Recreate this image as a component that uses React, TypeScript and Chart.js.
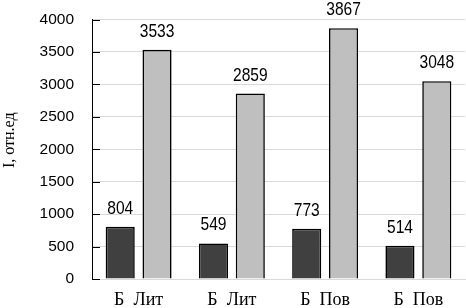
import { useEffect, useRef } from 'react';
import { Chart, registerables } from 'chart.js';

Chart.register(...registerables);

const categories = ['Б  Лит', 'Б  Лит', 'Б  Пов', 'Б  Пов'];
const darkValues = [804, 549, 773, 514];
const lightValues = [3533, 2859, 3867, 3048];
const yMin = 0;
const yMax = 4000;
const yStep = 500;
const yTitle = 'I, отн.ед';

const valueLabels = {
  id: 'valueLabels',
  afterDatasetsDraw(chart: any) {
    const ctx = chart.ctx;
    const sx = 0.82;
    chart.data.datasets.forEach((ds: any, i: number) => {
      chart.getDatasetMeta(i).data.forEach((el: any, j: number) => {
        ctx.save();
        ctx.font = '19px "Liberation Sans", sans-serif';
        ctx.fillStyle = '#000';
        ctx.textAlign = 'center';
        ctx.textBaseline = 'alphabetic';
        ctx.translate(el.x, el.y - 13);
        ctx.scale(sx, 1);
        ctx.fillText(String(ds.data[j]), 0, 0);
        ctx.restore();
      });
    });
  },
};

const innerTicks = {
  id: 'innerTicks',
  afterDraw(chart: any) {
    const ctx = chart.ctx;
    const y = chart.scales.y;
    const left = chart.chartArea.left;
    ctx.save();
    ctx.strokeStyle = '#000';
    ctx.lineWidth = 1;
    y.ticks.forEach((t: any) => {
      const py = Math.round(y.getPixelForValue(t.value)) + 0.5;
      ctx.beginPath();
      ctx.moveTo(left, py);
      ctx.lineTo(left + 8, py);
      ctx.stroke();
    });
    ctx.restore();
    const ca = chart.chartArea;
    ctx.save();
    ctx.font = '16px "Liberation Serif", serif';
    ctx.fillStyle = '#000';
    ctx.textAlign = 'center';
    ctx.textBaseline = 'middle';
    ctx.translate(10, (ca.top + ca.bottom) / 2 - 9);
    ctx.rotate(-Math.PI / 2);
    ctx.fillText(yTitle, 0, 0);
    ctx.restore();
  },
};

export default function App() {
  const ref = useRef<HTMLCanvasElement>(null);
  useEffect(() => {
    const chart = new Chart(ref.current as HTMLCanvasElement, {
      type: 'bar',
      data: {
        labels: categories,
        datasets: [
          {
            data: darkValues,
            backgroundColor: '#404040',
            borderColor: '#000',
            borderWidth: 1.6,
            categoryPercentage: 0.79,
            barPercentage: 0.79,
          },
          {
            data: lightValues,
            backgroundColor: '#bfbfbf',
            borderColor: '#000',
            borderWidth: 1.6,
            categoryPercentage: 0.79,
            barPercentage: 0.79,
          },
        ],
      },
      options: {
        animation: false,
        responsive: false,
        devicePixelRatio: 1,
        layout: { padding: { top: 19.5, right: 1, left: 0, bottom: 0 } },
        plugins: {
          legend: { display: false },
          tooltip: { enabled: false },
        },
        scales: {
          x: {
            grid: { display: false, drawTicks: false },
            border: { display: true, color: '#d9d9d9' },
            ticks: {
              color: '#000',
              font: { family: '"Liberation Serif", serif', size: 18 },
              padding: 10,
              maxRotation: 0,
              autoSkip: false,
            },
            afterFit(scale: any) {
              scale.height = 29;
              scale.paddingLeft = 0;
              scale.paddingRight = 0;
            },
          },
          y: {
            min: yMin,
            max: yMax,
            grid: { color: '#d9d9d9', drawTicks: false, lineWidth: 1 },
            border: { display: true, color: '#000', width: 1 },
            ticks: {
              stepSize: yStep,
              color: '#000',
              font: { family: '"Liberation Sans", sans-serif', size: 15.5 },
              padding: 18,
              callback: (v: any) => String(v),
            },
            afterFit(scale: any) {
              scale.width = 92;
              scale.paddingTop = 0;
              scale.paddingBottom = 0;
            },
          },
        },
      },
      plugins: [valueLabels, innerTicks],
    });
    return () => chart.destroy();
  }, []);
  return (
    <div style={{ position: 'fixed', left: 0, top: 0, width: 466, height: 308, background: '#fff' }}>
      <canvas ref={ref} width={466} height={308} style={{ display: 'block' }} />
    </div>
  );
}
